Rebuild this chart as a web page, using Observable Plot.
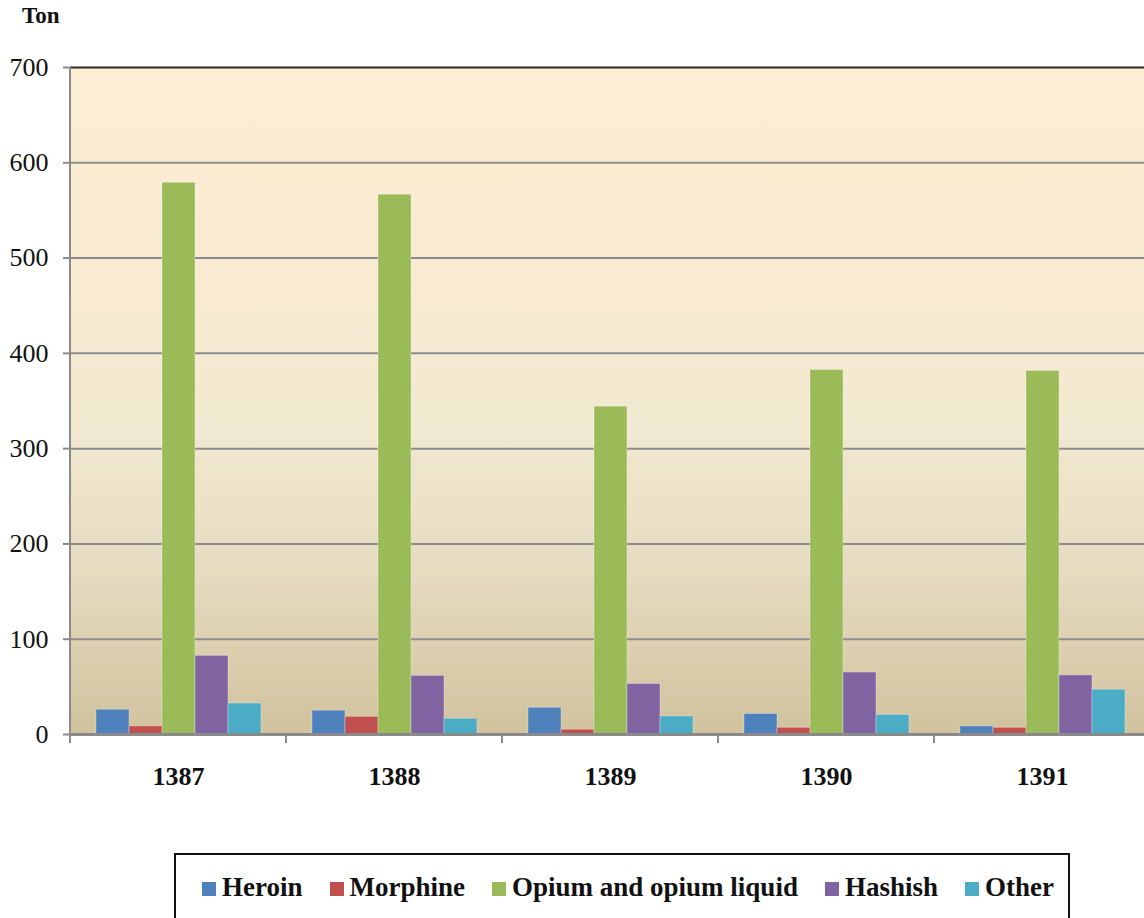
<!DOCTYPE html>
<html>
<head>
<meta charset="utf-8">
<script src="https://cdn.jsdelivr.net/npm/d3@7"></script>
<script src="https://cdn.jsdelivr.net/npm/@observablehq/plot@0.6"></script>
<style>
  html, body { margin: 0; padding: 0; background: #fff; }
  #wrap { position: relative; width: 1144px; height: 918px; overflow: hidden; background: #fff; }
  #ton { position: absolute; left: 22px; top: 3px; font: bold 23px "Liberation Serif", serif; color: #111; }
  #chart { position: absolute; left: 0; top: 0; }
  #legend {
    position: absolute; left: 174px; top: 853px; width: 896px; height: 90px;
    border: 2px solid #111; box-sizing: border-box; background: #fff;
    padding-left: 26px; padding-top: 17px; white-space: nowrap;
    font: bold 27px "Liberation Serif", serif; line-height: 30px; color: #111;
  }
  .item { display: inline-block; margin-right: 27px; }
  .sw { width: 14px; height: 14px; display: inline-block; margin-right: 6px; vertical-align: baseline; }
</style>
</head>
<body>
<div id="wrap">
  <div id="ton">Ton</div>
  <div id="chart"></div>
  <div id="legend"></div>
</div>
<script>
const years = ["1387", "1388", "1389", "1390", "1391"];
const series = ["Heroin", "Morphine", "Opium and opium liquid", "Hashish", "Other"];
const heroin   = [26, 25, 28, 21.5, 8.5];
const morphine = [8.5, 18.5, 5, 7, 7];
const opium    = [579, 566.5, 344, 382.5, 381.5];
const hashish  = [82.5, 61.5, 53, 65, 62];
const other    = [32.5, 16.5, 19, 20.5, 47];
const colors   = ["#4F81BD", "#C0504D", "#9BBB59", "#8064A2", "#4BACC6"];
const yTicks   = [0, 100, 200, 300, 400, 500, 600, 700];

const seriesValues = [heroin, morphine, opium, hashish, other];
const data = years.flatMap((yr, i) =>
  series.map((s, j) => ({year: yr, series: s, value: seriesValues[j][i]}))
);

const edges = Plot.ruleY(years, {
  fx: d => d,
  y: () => 0,
  render(index, scales, values, dims) {
    const [x0, x1] = scales.x.range();
    const y0 = scales.y(0), yTop = scales.y(700);
    const g = d3.create("svg:g").attr("stroke", "#8a8a8a").attr("stroke-width", 2);
    const yr = years[index[0]];
    g.append("line").attr("x1", x0).attr("x2", x0).attr("y1", y0).attr("y2", y0 + 9);
    if (yr === years[years.length - 1]) {
      g.append("line").attr("x1", x1).attr("x2", x1).attr("y1", y0).attr("y2", y0 + 9);
    }
    if (yr === years[0]) {
      g.append("line").attr("x1", x0).attr("x2", x0).attr("y1", yTop).attr("y2", y0 + 9);
    }
    return g.node();
  }
});

const chart = Plot.plot({
  width: 1152,
  height: 800,
  marginLeft: 69,
  marginRight: 2,
  marginTop: 67,
  marginBottom: 66,
  style: {maxWidth: "none", fontFamily: "Liberation Serif, serif", color: "#111", background: "transparent"},
  fx: {domain: years, padding: 0, label: null},
  x: {domain: series, paddingInner: 0, paddingOuter: 0.75, axis: null},
  y: {domain: [0, 700], axis: null},
  color: {domain: series, range: colors},
  marks: [
    Plot.frame({fill: "url(#bggrad)", stroke: null, insetLeft: -1, insetRight: -1}),
    Plot.ruleY(yTicks.filter(t => t > 0 && t < 700), {stroke: "#8c8c8c", strokeWidth: 2}),
    Plot.ruleY([700], {stroke: "#2a2a2a", strokeWidth: 2}),
    Plot.barY(data, {fx: "year", x: "series", y: "value", fill: "series", stroke: "#ffffff", strokeOpacity: 0.3, strokeWidth: 1}),
    Plot.ruleY([0], {stroke: "#8a8a8a", strokeWidth: 3}),
    edges,
    Plot.axisY({ticks: yTicks, tickSize: 7, tickPadding: 15, stroke: "#8a8a8a", strokeWidth: 2, fontSize: 26, fill: "#111", label: null}),
    Plot.axisFx({anchor: "bottom", tickSize: 0, tickPadding: 32, fontSize: 26, fontWeight: "bold", fill: "#111", label: null})
  ]
});

chart.insertAdjacentHTML("afterbegin",
  `<defs><linearGradient id="bggrad" x1="0" y1="0" x2="0" y2="1">
     <stop offset="0" stop-color="#FDEED3"/>
     <stop offset="0.3" stop-color="#F9EBD2"/>
     <stop offset="0.55" stop-color="#F0E8D0"/>
     <stop offset="0.75" stop-color="#E6DCC1"/>
     <stop offset="1" stop-color="#D1C29D"/>
   </linearGradient></defs>`);
document.getElementById("chart").appendChild(chart);

const legend = document.getElementById("legend");
series.forEach((s, i) => {
  const item = document.createElement("span");
  item.className = "item";
  const sw = document.createElement("span");
  sw.className = "sw";
  sw.style.background = colors[i];
  item.appendChild(sw);
  item.appendChild(document.createTextNode(s));
  legend.appendChild(item);
});
</script>
</body>
</html>
